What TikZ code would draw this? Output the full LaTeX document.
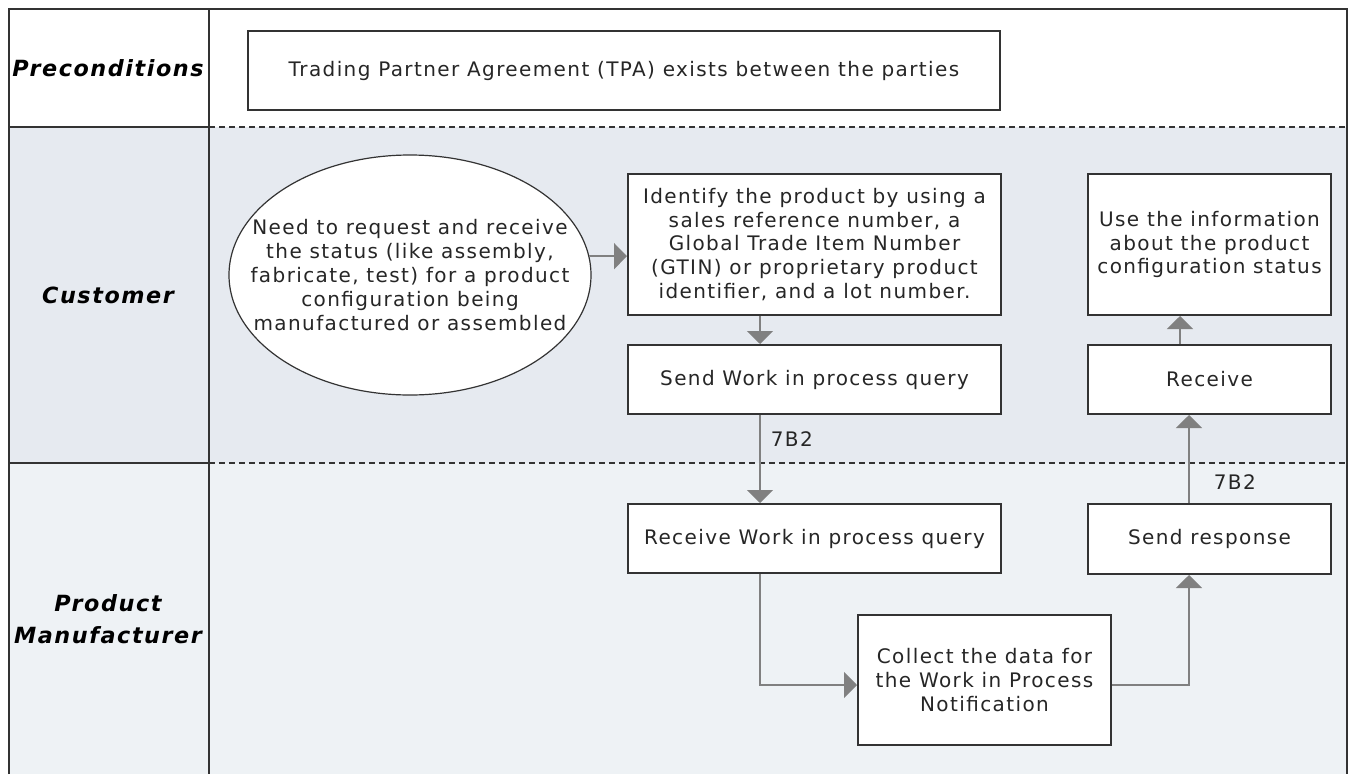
\documentclass[tikz,border=0pt]{standalone}
\usepackage{fontspec}
\setmainfont[LetterSpace=7]{DejaVu Sans}
\usetikzlibrary{arrows.meta,shapes.geometric}

\definecolor{custfill}{HTML}{E6EAF0}
\definecolor{mfrfill}{HTML}{EEF2F5}
\definecolor{framegray}{HTML}{333333}
\definecolor{flowgray}{HTML}{808080}

\tikzset{
  lane/.style={draw=framegray,line width=2pt},
  lanedash/.style={draw=framegray,line width=2pt,dash pattern=on 6pt off 4pt},
  lanelabel/.style={font=\fontsize{22.3}{32}\selectfont\bfseries\itshape,align=center,text=black,inner sep=0pt},
  steptext/.style={align=center,inner sep=0pt,font=\fontsize{20}{23.8}\selectfont,text=black!85},
  stepbox/.style={steptext,draw=framegray,line width=2pt,fill=white},
  flow/.style={draw=flowgray,line width=1.6pt,-{Triangle[width=26pt,length=13pt]}},
  msg/.style={font=\fontsize{20}{23.8}\selectfont,text=black!85,inner sep=0pt}
}

\begin{document}
\begin{tikzpicture}[x=1pt,y=-1pt]
  \useasboundingbox (0,0) rectangle (1349,774);
  % lanes
  \fill[custfill] (9,127) rectangle (1347,463);
  \fill[mfrfill] (9,463) rectangle (1347,774);
  \draw[lane] (9,774) -- (9,9) -- (1347,9) -- (1347,774);
  \draw[lane] (209,9) -- (209,774);
  \foreach \y in {127,463} {
    \draw[lane] (9,\y) -- (209,\y);
    \draw[lanedash] (209,\y) -- (1347,\y);
  }
  \node[lanelabel] (pre) at (108,68) {Preconditions};
  \node[lanelabel] (cust) at (108,295) {Customer};
  \node[lanelabel] (mfr) at (108,619) {Product\\Manufacturer};

  % steps
  \node[stepbox,minimum width=752,minimum height=79] (tpa) at (624,70.5)
    {Trading Partner Agreement (TPA) exists between the parties};
  \node[draw=framegray,fill=white,line width=1.2pt,ellipse,inner sep=0pt,
    minimum width=362,minimum height=240] (need) at (410,275) {};
  \node[steptext] (needtext) at (need.center)
    {Need to request and receive\\the status (like assembly,\\fabricate, test) for a product\\configuration being\\manufactured or assembled};
  \node[stepbox,minimum width=373,minimum height=141] (identify) at (814.5,244.5)
    {Identify the product by using a\\sales reference number, a\\Global Trade Item Number\\(GTIN) or proprietary product\\identifier, and a lot number.};
  \node[stepbox,minimum width=373,minimum height=69] (sendq) at (814.5,379.5)
    {Send Work in process query};
  \node[stepbox,minimum width=243,minimum height=141] (use) at (1209.5,244.5)
    {Use the information\\about the product\\configuration status};
  \node[stepbox,minimum width=243,minimum height=69] (recv) at (1209.5,379.5)
    {Receive};
  \node[stepbox,minimum width=373,minimum height=69] (recvq) at (814.5,538.5)
    {Receive Work in process query};
  \node[stepbox,minimum width=243,minimum height=70] (sendr) at (1209.5,539)
    {Send response};
  \node[stepbox,minimum width=253,minimum height=130] (collect) at (984.5,680)
    {Collect the data for\\the Work in Process\\Notification};

  % flows
  \coordinate (lx) at (760,0);
  \coordinate (rx) at (1189,0);
  \coordinate (ux) at (1180,0);
  \draw[flow] (need.6) -- (need.6 -| identify.west);
  \draw[flow] (identify.south -| lx) -- (sendq.north -| lx);
  \draw[flow] (sendq.south -| lx) -- node[msg,pos=0.27,right=10pt] {7B2} (recvq.north -| lx);
  \draw[flow] (recvq.south -| lx) |- ([yshift=-5pt]collect.west);
  \draw[flow] ([yshift=-5pt]collect.east) -| (sendr.south -| rx);
  \draw[flow] (sendr.north -| rx) -- node[msg,pos=0.24,right=24pt] {7B2} (recv.south -| rx);
  \draw[flow] (recv.north -| ux) -- (use.south -| ux);
\end{tikzpicture}
\end{document}
